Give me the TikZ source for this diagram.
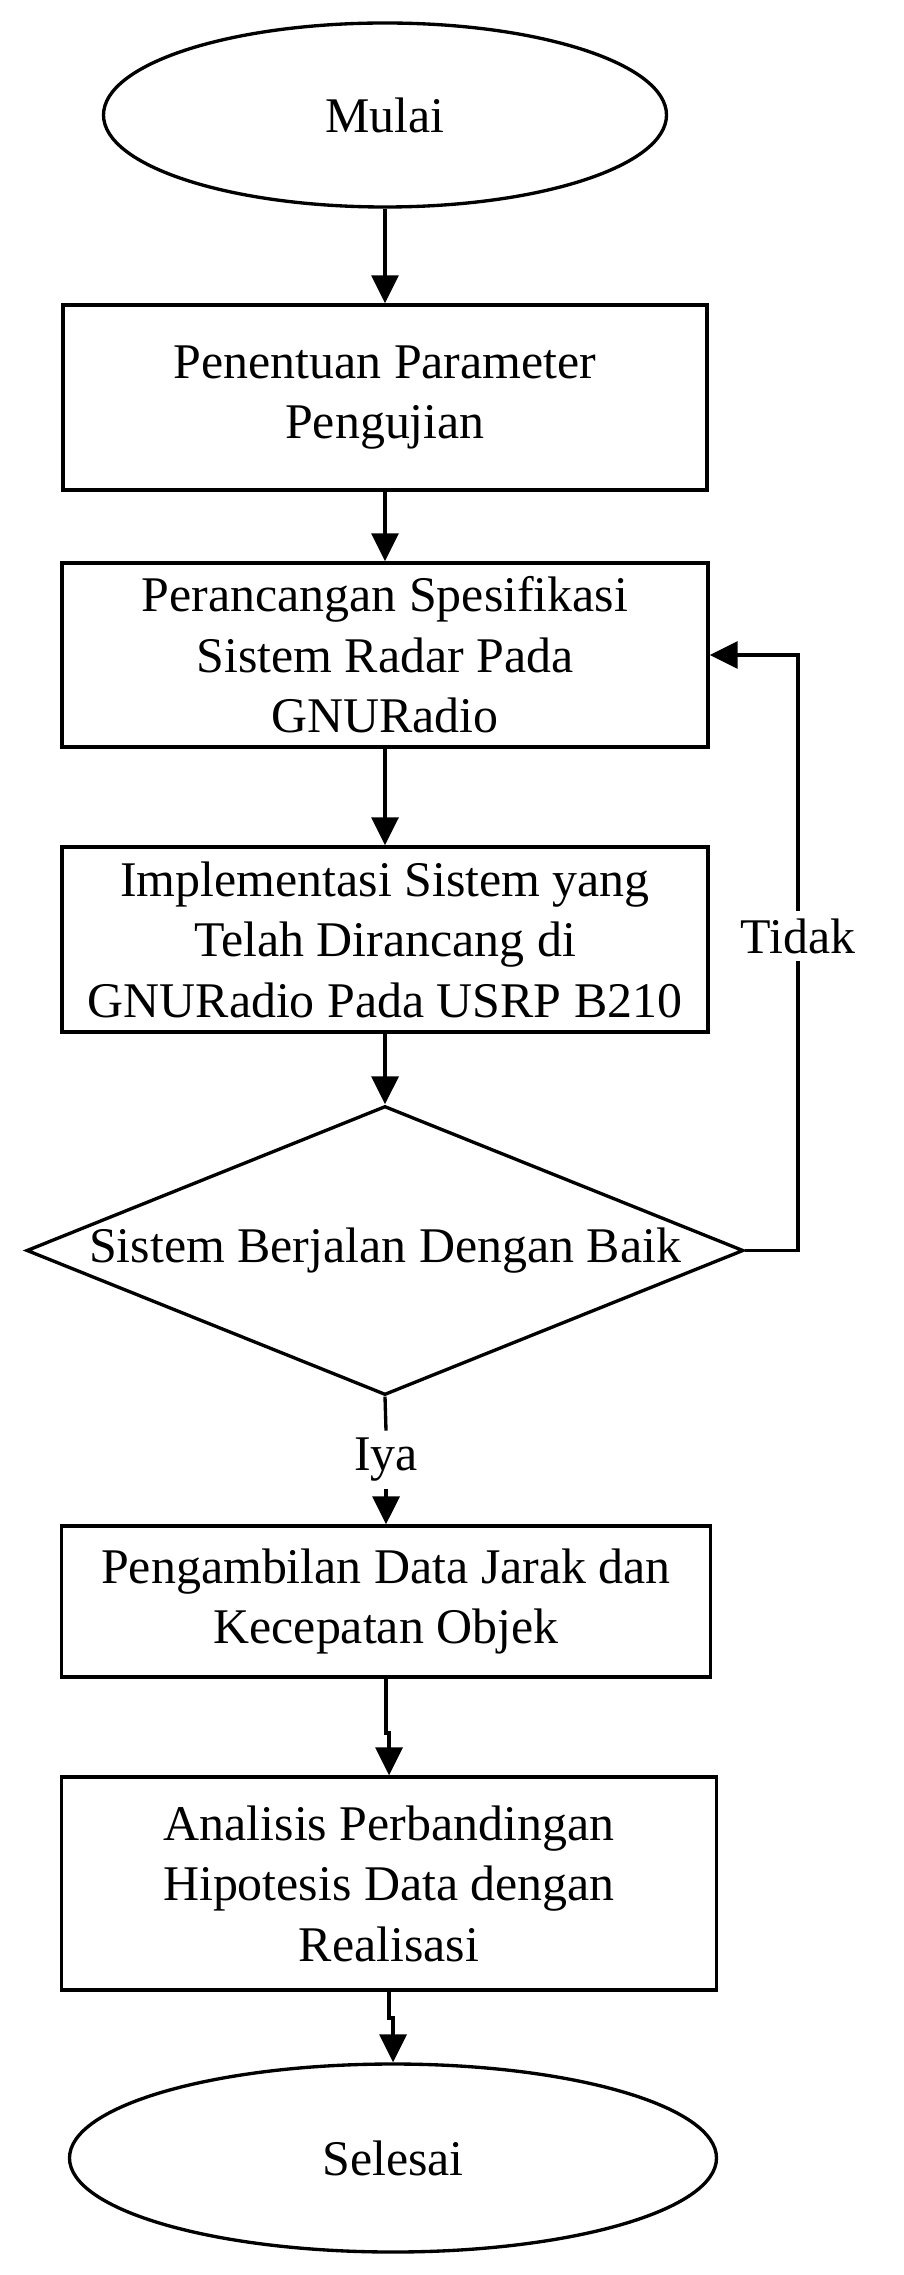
\documentclass[tikz,border=0pt]{standalone}
\usepackage{fontspec}
\setmainfont{Liberation Serif}
\usetikzlibrary{shapes.geometric,arrows.meta}

\begin{document}
\begin{tikzpicture}[
    every node/.style={font=\fontsize{14.2}{17.2}\selectfont},
    proses/.style={draw, line width=0.95pt, align=center, inner sep=0pt},
    terminal/.style={draw, ellipse, line width=0.95pt, inner sep=0pt},
    keputusan/.style={draw, diamond, aspect=2.48, line width=0.95pt, inner sep=0pt},
    garis/.style={line width=0.95pt},
    panah/.style={garis, -{Triangle[length=0.28cm, width=0.27cm]}}
  ]
          \useasboundingbox (0,0) rectangle (9.03,-22.75);

          \node[terminal, minimum width=5.63cm, minimum height=1.84cm] (mulai) at (3.85,-1.15) {Mulai};
          \node[proses, minimum width=6.44cm, minimum height=1.85cm] (b1) at (3.85,-3.975) {Penentuan Parameter\\Pengujian};
          \node[proses, minimum width=6.46cm, minimum height=1.84cm] (b2) at (3.85,-6.55) {Perancangan Spesifikasi\\Sistem Radar Pada\\GNURadio};
          \node[proses, minimum width=6.46cm, minimum height=1.85cm] (b3) at (3.85,-9.395) {Implementasi Sistem yang\\Telah Dirancang di\\GNURadio Pada USRP B210};
          \node[keputusan, minimum width=7.17cm, minimum height=2.89cm] (dia) at (3.85,-12.505) {Sistem Berjalan Dengan Baik};
          \node[inner xsep=1pt, inner ysep=2pt] (iya) at (3.86,-14.60) {Iya};
          \node[proses, minimum width=6.49cm, minimum height=1.51cm] (b4) at (3.86,-16.015) {Pengambilan Data Jarak dan\\Kecepatan Objek};
          \node[proses, minimum width=6.55cm, minimum height=2.13cm] (b5) at (3.89,-18.835) {Analisis Perbandingan\\Hipotesis Data dengan\\Realisasi};
          \node[terminal, minimum width=6.47cm, minimum height=1.88cm] (selesai) at (3.93,-21.58) {Selesai};
          \node[inner xsep=1pt, inner ysep=2pt] (tidak) at (7.98,-9.36) {Tidak};
          \coordinate (lp) at (7.98,-12.505);
          \coordinate (j1) at (3.89,-17.33);
          \coordinate (j2) at (3.93,-20.18);

          \draw[panah] (mulai) -- (b1);
          \draw[panah] (b1) -- (b2);
          \draw[panah] (b2) -- (b3);
          \draw[panah] (b3) -- (dia);
          \draw[garis] (dia.south) -- (iya.north);
          \draw[panah] (iya) -- (b4);
          \draw[panah] (b4.south) |- (j1) -- (b5.north);
          \draw[panah] (b5.south) |- (j2) -- (selesai.north);
          \draw[garis] (dia.east) -- (lp) -- (tidak);
          \draw[panah] (tidak) |- (b2.east);
        \end{tikzpicture}
\end{document}
